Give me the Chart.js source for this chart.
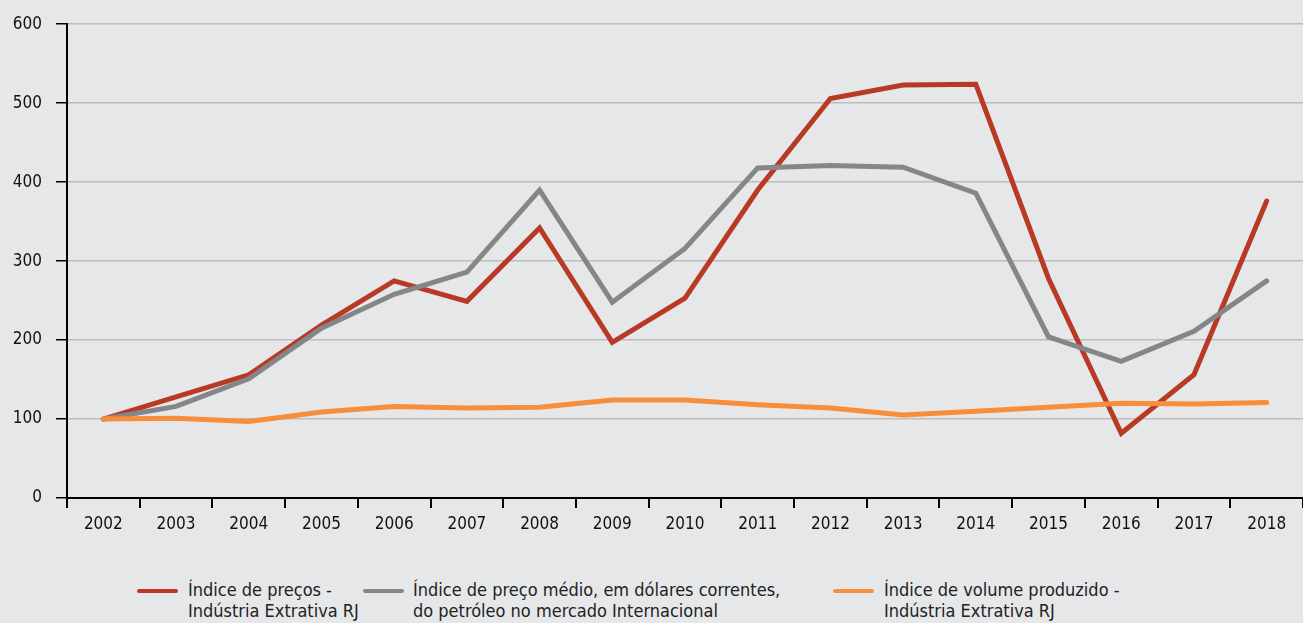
<!DOCTYPE html>
<html>
<head>
<meta charset="utf-8">
<script src="https://cdn.jsdelivr.net/npm/chart.js@4"></script>
<style>
  html, body { margin: 0; padding: 0; background: #e6e7e9; }
  body { width: 1303px; height: 623px; position: relative; overflow: hidden;
         font-family: "Liberation Sans Narrow", "DejaVu Sans Condensed", sans-serif; }
  #wrap { position: absolute; left: 0; top: 0; width: 1303px; height: 560px; }
  .legend { position: absolute; top: 579px; left: 0; width: 1303px; height: 44px; color: #222; font-size: 18px; line-height: 21px; }
  .sw { position: absolute; top: 10px; width: 41px; height: 4px; border-radius: 2px; }
  .txt { position: absolute; top: 0; white-space: nowrap; }
</style>
</head>
<body>
<div id="wrap"><canvas id="chart" width="1303" height="560"></canvas></div>
<div class="legend" id="legend"></div>
<script>
const years = ["2002","2003","2004","2005","2006","2007","2008","2009","2010","2011","2012","2013","2014","2015","2016","2017","2018"];
const precosRJ = [100, 128, 156, 219, 275, 249, 342, 197, 253, 390, 506, 523, 524, 278, 82, 156, 376];
const petroleo = [100, 116, 151, 215, 258, 286, 390, 248, 316, 418, 421, 419, 386, 204, 173, 211, 275];
const volumeRJ = [100, 101, 97, 109, 116, 114, 115, 124, 124, 118, 114, 105, 110, 115, 120, 119, 121];
const seriesNames = [
  ["Índice de preços -", "Indústria Extrativa RJ"],
  ["Índice de preço médio, em dólares correntes,", "do petróleo no mercado Internacional"],
  ["Índice de volume produzido -", "Indústria Extrativa RJ"]
];
const colors = ["#b83a25", "#858688", "#f68e3b"];

const fontFamily = '"Liberation Sans Narrow", "DejaVu Sans Condensed", sans-serif';

new Chart(document.getElementById("chart"), {
  type: "line",
  data: {
    labels: years,
    datasets: [precosRJ, petroleo, volumeRJ].map((d, i) => ({
      label: seriesNames[i].join(" "),
      data: d,
      borderColor: colors[i],
      borderWidth: 5,
      pointRadius: 0,
      tension: 0,
      borderCapStyle: "round",
      borderJoinStyle: "miter"
    })).reverse()
  },
  options: {
    responsive: false,
    animation: false,
    layout: { padding: { top: 14, right: 0, left: 0, bottom: 0 } },
    plugins: { legend: { display: false }, tooltip: { enabled: false } },
    scales: {
      x: {
        offset: true,
        grid: { offset: true, drawOnChartArea: false, color: "#000", tickColor: "#000", tickLength: 10, lineWidth: 2 },
        border: { color: "#000", width: 2 },
        ticks: { color: "#111", font: { family: fontFamily, size: 17 }, padding: 6, maxRotation: 0, autoSkip: false },
        afterFit: s => { s.height = 62; }
      },
      y: {
        min: 0, max: 600,
        grid: { color: "#bdbdbd", lineWidth: 1.5, tickColor: "#000", tickLength: 11 },
        border: { color: "#000", width: 2 },
        ticks: { stepSize: 100, color: "#111", font: { family: fontFamily, size: 17 }, padding: 14 },
        afterFit: s => { s.width = 67; }
      }
    }
  }
});

// legend
const legend = document.getElementById("legend");
const pos = [[137, 188], [363, 413], [833, 884]];
seriesNames.forEach((lines, i) => {
  const sw = document.createElement("div");
  sw.className = "sw";
  sw.style.left = pos[i][0] + "px";
  sw.style.background = colors[i];
  legend.appendChild(sw);
  const t = document.createElement("div");
  t.className = "txt";
  t.style.left = pos[i][1] + "px";
  t.innerHTML = lines.join("<br>");
  legend.appendChild(t);
});
</script>
</body>
</html>
